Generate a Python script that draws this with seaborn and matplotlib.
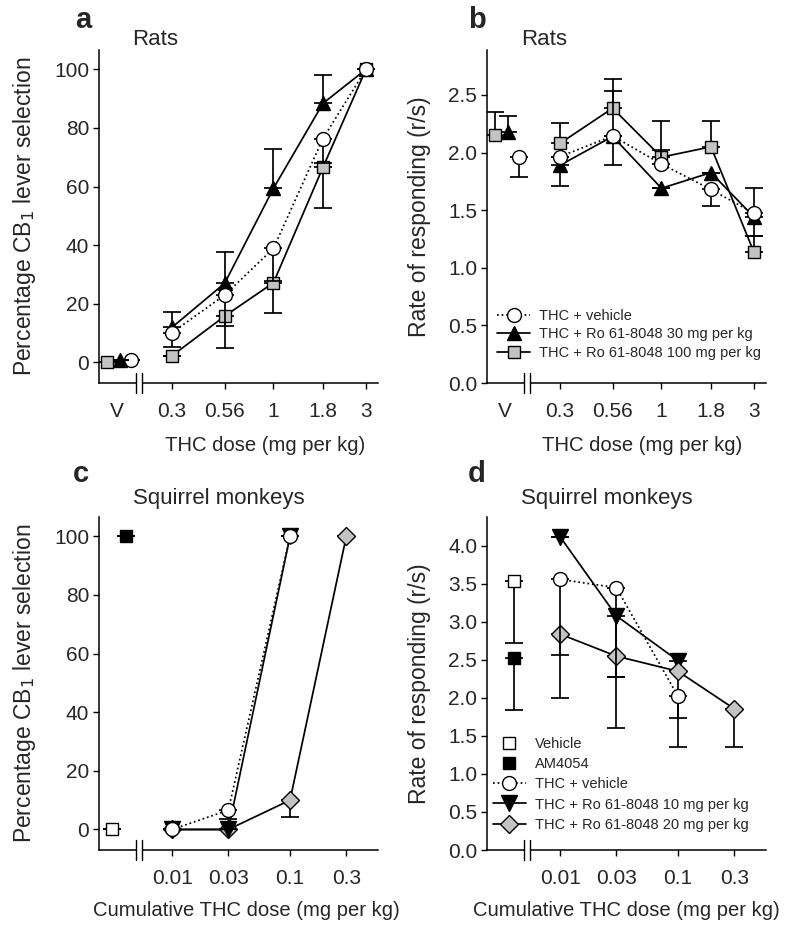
import matplotlib
matplotlib.use('Agg')
import matplotlib.pyplot as plt
from matplotlib.lines import Line2D
import seaborn as sns

sns.set_style('ticks')
plt.rcParams['font.family'] = ['Liberation Sans', 'DejaVu Sans']

# ---------------- rats (panels a, b) ----------------
rat_dose = [0.3, 0.56, 1, 1.8, 3]
rat_dose_labels = ['0.3', '0.56', '1', '1.8', '3']
rat_v = 0.156          # where the "V" (vehicle) category sits, left of the break

# percentage CB1 lever selection
pct_veh = [10.2, 23, 38.9, 76.4, 100]
pct_veh_lo = [5, 10.6, 11, 8.5, 0]
pct_veh_hi = [0, 0, 0, 0, 0]
pct_ro30 = [12, 27, 59.4, 88.4, 100]
pct_ro30_lo = [0, 0, 0, 0, 0]
pct_ro30_hi = [5.3, 10.8, 13.4, 9.6, 0]
pct_ro100 = [2.3, 15.8, 27.2, 66.6, 100]
pct_ro100_lo = [0, 10.8, 10.3, 13.8, 0]
pct_ro100_hi = [0, 0, 0, 0, 0]
pct_v = [1, 1, 0]              # vehicle alone: veh, ro30, ro100
pct_v_lo = [0, 0, 0]
pct_v_hi = [0, 0, 0]

# rate of responding (r/s)
rate_veh = [1.965, 2.144, 1.90, 1.68, 1.473]
rate_veh_lo = [0, 0.254, 0, 0.144, 0]
rate_veh_hi = [0, 0, 0.12, 0, 0.222]
rate_ro30 = [1.89, 2.14, 1.69, 1.826, 1.44]
rate_ro30_lo = [0.18, 0, 0, 0, 0.16]
rate_ro30_hi = [0, 0.39, 0, 0, 0]
rate_ro100 = [2.08, 2.385, 1.96, 2.05, 1.134]
rate_ro100_lo = [0, 0, 0, 0, 0]
rate_ro100_hi = [0.18, 0.255, 0.317, 0.227, 0.145]
rate_v = [1.965, 2.18, 2.153]
rate_v_lo = [0.18, 0, 0]
rate_v_hi = [0, 0.14, 0.20]

# ---------------- squirrel monkeys (panels c, d) ----------------
mk_dose = [0.01, 0.03, 0.1, 0.3]
mk_dose_labels = ['0.01', '0.03', '0.1', '0.3']
mk_v = 0.0041

sel_veh = [0, 6.6, 100]
sel_veh_lo = [0, 3, 0]
sel_ro10 = [0, 0, 100]
sel_ro10_lo = [0, 0, 0]
sel_ro20 = [0, 0, 10, 100]
sel_ro20_lo = [0, 0, 5.8, 0]
sel_vehicle = 0
sel_am4054 = 100

mrate_veh = [3.56, 3.45, 2.02]
mrate_veh_lo = [1.56, 1.18, 0.29]
mrate_ro10 = [4.12, 3.08, 2.49]
mrate_ro10_lo = [0, 1.47, 1.14]
mrate_ro20 = [2.84, 2.55, 2.35, 1.857]
mrate_ro20_lo = [0.28, 0.28, 0, 0.507]
mrate_vehicle, mrate_vehicle_lo = 3.54, 0.82
mrate_am4054, mrate_am4054_lo = 2.52, 0.68

GRAY = '#c3c3c3'
LW = 1.25
sty_veh = dict(ls=':', marker='o', ms=10, mfc='white')
sty_ro30 = dict(ls='-', marker='^', ms=10.5, mfc='black')
sty_ro100 = dict(ls='-', marker='s', ms=9, mfc=GRAY)
sty_ro10 = dict(ls='-', marker='v', ms=11.5, mfc='black')
sty_ro20 = dict(ls='-', marker='D', ms=9, mfc=GRAY)


def series(ax, x, y, lo, hi, sty, z):
    ax.errorbar(x, y, yerr=[lo, hi], fmt='none', ecolor='k', elinewidth=LW,
                capsize=6.5, capthick=LW, zorder=z - 0.5)
    sns.lineplot(x=x, y=y, ax=ax, color='k', lw=LW, mec='k', mew=1,
                 zorder=z, **sty)


def point(ax, x, y, lo, hi, sty, z):
    ax.errorbar([x], [y], yerr=[[lo], [hi]], fmt='none', ecolor='k', elinewidth=LW,
                capsize=6.5, capthick=LW, zorder=z - 0.5)
    s = dict(sty)
    s['ls'] = 'none'
    ax.plot([x], [y], color='k', mec='k', mew=1, zorder=z, **s)


def dodge(x, px, px_per_decade):
    return x * 10 ** (px / px_per_decade)


def axis_break(ax, xc=0.142, dx=0.0107, dy=0.03):
    ax.plot([xc - dx, xc + dx], [0, 0], transform=ax.transAxes, color='white',
             lw=3, clip_on=False, zorder=5, solid_capstyle='butt')
    for xx in (xc - dx, xc + dx):
        ax.plot([xx, xx], [-dy, dy], transform=ax.transAxes, color='k', lw=1,
                clip_on=False, zorder=6)


def style_axis(ax, ticks, labels, vlab, vpos):
    ax.set_xscale('log')
    ax.set_xticks(ticks, labels)
    if vlab:
        ax.set_xticks([vpos], [vlab], minor=True)
    else:
        ax.xaxis.set_minor_locator(matplotlib.ticker.NullLocator())
    ax.tick_params(axis='x', which='major', length=4, width=1, pad=9.5,
                   labelsize=15, color='k')
    ax.tick_params(axis='x', which='minor', length=0, pad=13.5, labelsize=15)
    ax.tick_params(axis='y', length=4, width=1, pad=3, labelsize=15, color='k')
    for sp in ['left', 'bottom']:
        ax.spines[sp].set_color('k')
        ax.spines[sp].set_linewidth(1.1)
    sns.despine(ax=ax)
    axis_break(ax)


fig = plt.figure(figsize=(7.86, 9.30), dpi=100)
W, H = 786, 930


def add_ax(left, top):
    return fig.add_axes([left / W, 1 - (top + 333) / H, 279 / W, 333 / H])


def ftext(x, y, s, **kw):
    fig.text(x / W, 1 - y / H, s, va='baseline', **kw)


CB = 'Percentage CB$_1$ lever selection'
YL = 16.5
XL = 14.6

# ---- a
ax = add_ax(99, 50)
series(ax, rat_dose, pct_ro100, pct_ro100_lo, pct_ro100_hi, sty_ro100, 3)
series(ax, rat_dose, pct_ro30, pct_ro30_lo, pct_ro30_hi, sty_ro30, 4)
series(ax, rat_dose, pct_veh, pct_veh_lo, pct_veh_hi, sty_veh, 5)
for i, (sty, off) in enumerate([(sty_veh, 14), (sty_ro30, 3), (sty_ro100, -10)]):
    point(ax, dodge(rat_v, off, 194), pct_v[i], pct_v_lo[i], pct_v_hi[i], sty, 4 + i)
style_axis(ax, rat_dose, rat_dose_labels, 'V', rat_v)
ax.set_xlim(0.126, 3.46)
ax.set_ylim(-7, 106.6)
ax.set_yticks([0, 20, 40, 60, 80, 100])
ax.set_ylabel(CB, fontsize=YL)
ax.yaxis.set_label_coords(-0.22, 0.5)
ax.set_xlabel('THC dose (mg per kg)', fontsize=XL)
ax.xaxis.set_label_coords(0.595, -0.16)

# ---- b
ax = add_ax(487, 50)
series(ax, rat_dose, rate_ro100, rate_ro100_lo, rate_ro100_hi, sty_ro100, 3)
series(ax, rat_dose, rate_ro30, rate_ro30_lo, rate_ro30_hi, sty_ro30, 4)
series(ax, rat_dose, rate_veh, rate_veh_lo, rate_veh_hi, sty_veh, 5)
for i, (sty, off) in enumerate([(sty_veh, 14), (sty_ro30, 3), (sty_ro100, -10)]):
    point(ax, dodge(rat_v, off, 194), rate_v[i], rate_v_lo[i], rate_v_hi[i], sty, 4 + i)
style_axis(ax, rat_dose, rat_dose_labels, 'V', rat_v)
ax.set_xlim(0.126, 3.46)
ax.set_ylim(0, 2.89)
ax.set_yticks([0, 0.5, 1.0, 1.5, 2.0, 2.5])
ax.yaxis.set_major_formatter(matplotlib.ticker.FormatStrFormatter('%.1f'))
ax.set_ylabel('Rate of responding (r/s)', fontsize=YL)
ax.yaxis.set_label_coords(-0.2, 0.5)
ax.set_xlabel('THC dose (mg per kg)', fontsize=XL)
ax.xaxis.set_label_coords(0.556, -0.16)
hb = [Line2D([], [], color='k', lw=LW, mec='k', mew=1, **s)
      for s in (sty_veh, sty_ro30, sty_ro100)]
ax.legend(hb, ['THC + vehicle', 'THC + Ro 61-8048 30 mg per kg',
               'THC + Ro 61-8048 100 mg per kg'],
          loc='lower left', bbox_to_anchor=(0.035, 0.07), frameon=False,
          fontsize=10.5, borderpad=0, borderaxespad=0, labelspacing=0.3,
          handlelength=2.3, handletextpad=0.6, numpoints=1)

# ---- c
ax = add_ax(99, 517)
series(ax, mk_dose, sel_ro20, sel_ro20_lo, [0] * 4, sty_ro20, 3)
series(ax, mk_dose[:3], sel_ro10, sel_ro10_lo, [0] * 3, sty_ro10, 4)
series(ax, mk_dose[:3], sel_veh, sel_veh_lo, [0] * 3, sty_veh, 5)
point(ax, dodge(mk_v, -14, 118), sel_vehicle, 0, 0,
      dict(marker='s', ms=9, mfc='white'), 4)
point(ax, mk_v, sel_am4054, 0, 0, dict(marker='s', ms=9, mfc='black'), 4)
style_axis(ax, mk_dose, mk_dose_labels, None, None)
ax.set_xlim(0.0024, 0.557)
ax.set_ylim(-7, 106.6)
ax.set_yticks([0, 20, 40, 60, 80, 100])
ax.set_ylabel(CB, fontsize=YL)
ax.yaxis.set_label_coords(-0.22, 0.5)
ax.set_xlabel('Cumulative THC dose (mg per kg)', fontsize=XL)
ax.xaxis.set_label_coords(0.53, -0.152)

# ---- d
ax = add_ax(487, 517)
series(ax, mk_dose[:3], mrate_ro10, mrate_ro10_lo, [0] * 3, sty_ro10, 3)
series(ax, mk_dose, mrate_ro20, mrate_ro20_lo, [0] * 4, sty_ro20, 4)
series(ax, mk_dose[:3], mrate_veh, mrate_veh_lo, [0] * 3, sty_veh, 5)
point(ax, mk_v, mrate_vehicle, mrate_vehicle_lo, 0,
      dict(marker='s', ms=9, mfc='white'), 4)
point(ax, mk_v, mrate_am4054, mrate_am4054_lo, 0,
      dict(marker='s', ms=9, mfc='black'), 4)
style_axis(ax, mk_dose, mk_dose_labels, None, None)
ax.set_xlim(0.0024, 0.557)
ax.set_ylim(0, 4.38)
ax.set_yticks([0, 0.5, 1.0, 1.5, 2.0, 2.5, 3.0, 3.5, 4.0])
ax.yaxis.set_major_formatter(matplotlib.ticker.FormatStrFormatter('%.1f'))
ax.set_ylabel('Rate of responding (r/s)', fontsize=YL)
ax.yaxis.set_label_coords(-0.2, 0.5)
ax.set_xlabel('Cumulative THC dose (mg per kg)', fontsize=XL)
ax.xaxis.set_label_coords(0.50, -0.152)
hd = [Line2D([], [], ls='none', marker='s', ms=9, mfc='white', mec='k', mew=1),
      Line2D([], [], ls='none', marker='s', ms=9, mfc='black', mec='k', mew=1)]
hd += [Line2D([], [], color='k', lw=LW, mec='k', mew=1, **s)
       for s in (sty_veh, sty_ro10, sty_ro20)]
ax.legend(hd, ['Vehicle', 'AM4054', 'THC + vehicle',
               'THC + Ro 61-8048 10 mg per kg', 'THC + Ro 61-8048 20 mg per kg'],
          loc='lower left', bbox_to_anchor=(0.02, 0.055), frameon=False,
          fontsize=10.5, borderpad=0, borderaxespad=0, labelspacing=0.42,
          handlelength=2.3, handletextpad=0.6, numpoints=1)

# panel letters and titles
for x, y, s in [(75, 28, 'a'), (468, 28, 'b'), (73, 482, 'c'), (468, 482, 'd')]:
    ftext(x, y, s, fontsize=21, fontweight='bold')
for x, y, s in [(132, 45, 'Rats'), (521, 45, 'Rats'),
                (133, 504, 'Squirrel monkeys'), (521, 504, 'Squirrel monkeys')]:
    ftext(x, y, s, fontsize=16)

fig.savefig('out.png', dpi=100)
